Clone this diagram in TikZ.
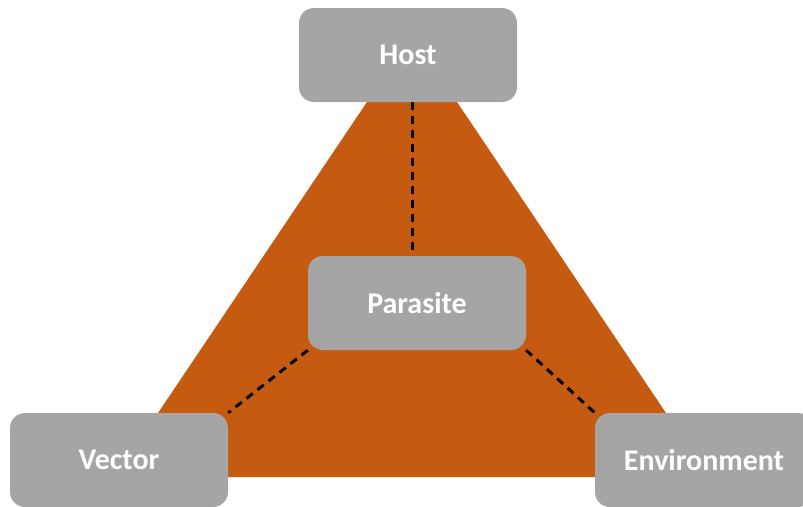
\documentclass[tikz,border=0pt]{standalone}
\usepackage{fontspec}
\setmainfont{Carlito}
\usetikzlibrary{backgrounds}
\definecolor{rust}{HTML}{C55A11}
\definecolor{boxgray}{HTML}{A5A5A5}
\tikzset{
  factor/.style={fill=boxgray, rounded corners=15pt, minimum width=218pt,
    minimum height=94pt, inner sep=0pt, text=white,
    font=\fontsize{30}{36}\selectfont\bfseries},
  link/.style={black, line width=3pt, dash pattern=on 8pt off 6pt}
}
\begin{document}
\begin{tikzpicture}[x=1pt,y=-1pt]
  \useasboundingbox (0,0) rectangle (803,506);
  \clip (0,0) rectangle (803,506);
  % corners of the triangle
  \coordinate (apex) at (412,35);
  \coordinate (bl) at (115,477);
  \coordinate (br) at (709,477);
  % the four factors
  \node[factor] (host) at (408,55) {Host};
  \node[factor] (parasite) at (417,303) {Parasite};
  \node[factor] (vector) at (119,460) {Vector};
  \node[factor] (env) at (704,460) {Environment};
  % triangle and dashed links, beneath the boxes
  \begin{scope}[on background layer]
    \fill[rust] (apex) -- (bl) -- (br) -- cycle;
    \draw[link] (host.south -| apex) -- (parasite.north -| apex);
    \draw[link] (parasite.south west) -- (vector.north east);
    \draw[link] (parasite.south east) -- (env.north west);
  \end{scope}
\end{tikzpicture}
\end{document}
